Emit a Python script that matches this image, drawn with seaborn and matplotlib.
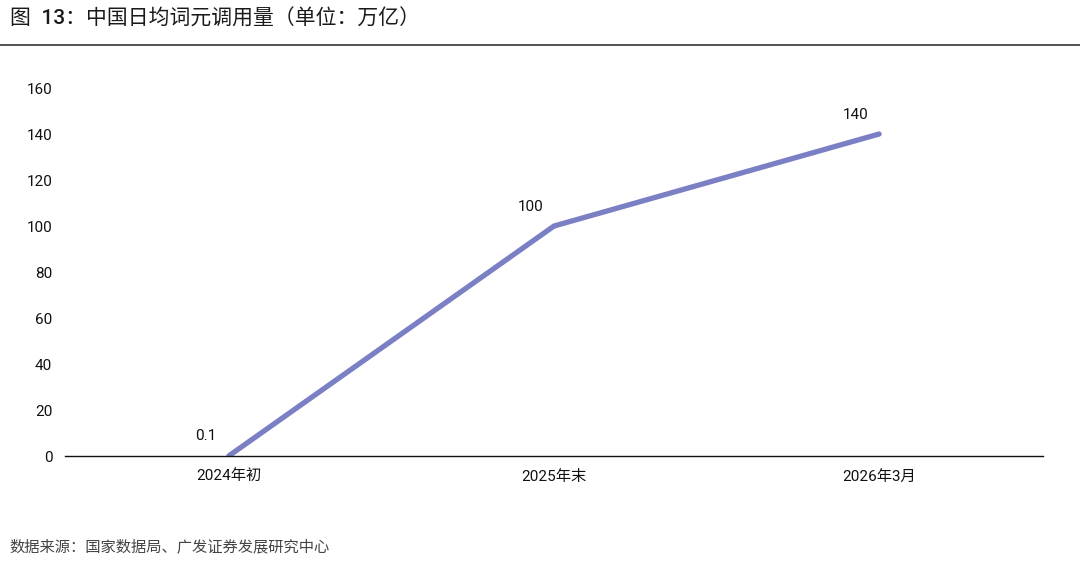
import pandas as pd
import seaborn as sns
import matplotlib
matplotlib.use("Agg")
import matplotlib.pyplot as plt

# Data ----
periods = ["2024年初", "2025年末", "2026年3月"]
tokens = [0.1, 100, 140]
labels = ["0.1", "100", "140"]

df = pd.DataFrame({"period": periods, "tokens": tokens})
df["pos"] = range(len(df))

sns.set_style("white", {"axes.grid": False})
plt.rcParams["font.family"] = ["Roboto", "Noto Sans CJK SC", "DejaVu Sans"]

fig = plt.figure(figsize=(10.8, 5.62), dpi=100)
ax = fig.add_axes([0.060, 0.1886, 0.906, 0.6548])

sns.lineplot(data=df, x="pos", y="tokens", color="#7b7fc4", linewidth=3.8,
             ax=ax, solid_capstyle="round")

for xpos, yval, lab in zip(df["pos"], df["tokens"], labels):
    ax.annotate(lab, (xpos, yval), xytext=(-17, 14), textcoords="offset points",
                ha="center", va="center", fontsize=11, color="#111111")

ax.set_xlim(-0.505, 2.505)
ax.set_ylim(0, 160)
ax.set_yticks(range(0, 161, 20))
ax.set_xticks(df["pos"])
ax.set_xticklabels(periods)
ax.tick_params(axis="both", length=0, labelsize=11, labelcolor="#111111")
ax.tick_params(axis="x", pad=10)
ax.tick_params(axis="y", pad=9)
ax.set_xlabel("")
ax.set_ylabel("")
sns.despine(ax=ax, left=True, top=True, right=True)
ax.spines["bottom"].set_color("#111111")
ax.spines["bottom"].set_linewidth(1.0)

fig.text(0.009, 0.967, "图  13：中国日均词元调用量（单位：万亿）", fontsize=15,
         weight="medium", color="#1a1a1a", va="center", ha="left")
fig.add_artist(plt.Line2D([0, 1], [0.92, 0.92], color="#333333", linewidth=1.2,
                          transform=fig.transFigure))
fig.text(0.009, 0.027, "数据来源：国家数据局、广发证券发展研究中心", fontsize=11,
         color="#444444", va="center", ha="left")

fig.savefig("out.png", dpi=100)
